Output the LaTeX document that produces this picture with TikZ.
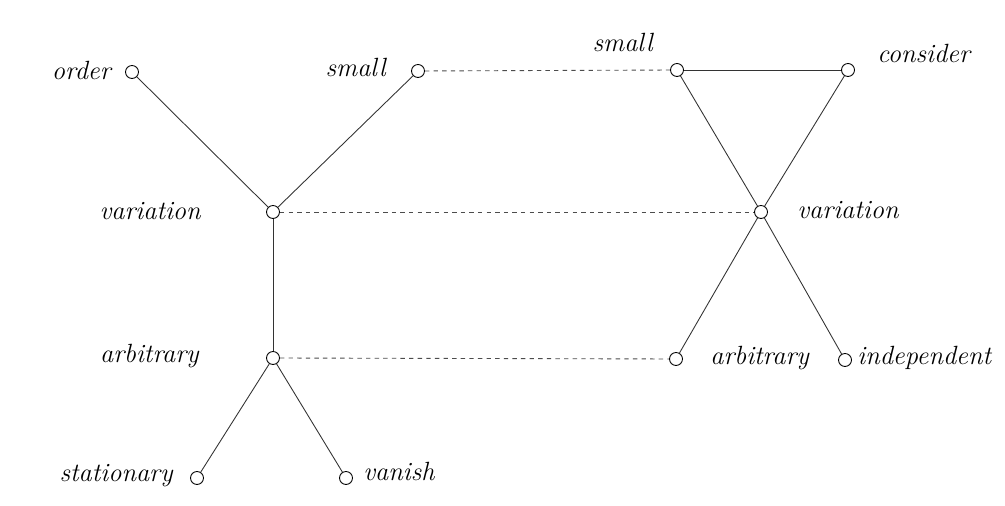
\documentclass[tikz,border=0pt]{standalone}
\usepackage{tikz}
\usetikzlibrary{positioning}

\begin{document}
\begin{tikzpicture}[x=0.02cm, y=-0.02cm,
    pt/.style={circle, draw, fill=white, inner sep=0pt, minimum size=0.26cm, line width=0.5pt},
    word/.style={inner sep=0pt, font=\fontsize{15}{17}\selectfont\itshape},
    link/.style={line width=0.5pt, black!80},
    match/.style={line width=0.5pt, black!70, dash pattern=on 2.5pt off 2.4pt}]
    \useasboundingbox (0,0) rectangle (1005,506);

    % left tree
    \node[pt] (order) at (132,72) {};
    \node[word, anchor=base east] (orderT) at (111,80) {order};
    \node[pt] (smallL) at (418,71) {};
    \node[word, anchor=base east] (smallLT) at (386,77) {small};
    \node[pt] (varL) at (273,212) {};
    \node[word, anchor=base east] (varLT) at (201,220) {variation};
    \node[pt] (arbL) at (273,358) {};
    \node[word, anchor=base east] (arbLT) at (199,363) {arbitrary};
    \node[pt] (stat) at (197,478) {};
    \node[word, anchor=base east] (statT) at (173,482) {stationary};
    \node[pt] (vanish) at (346,478) {};
    \node[word, anchor=base west] (vanishT) at (363,481) {vanish};

    % right graph
    \node[pt] (smallR) at (677,70) {};
    \node[word, anchor=base east] (smallRT) at (653,52) {small};
    \node[pt] (consider) at (848,70) {};
    \node[word, anchor=base west] (considerT) at (877,63) {consider};
    \node[pt] (varR) at (761,212) {};
    \node[word, anchor=base west] (varRT) at (797,219) {variation};
    \node[pt] (arbR) at (676,359) {};
    \node[word, anchor=base west] (arbRT) at (710,365) {arbitrary};
    \node[pt] (indep) at (845,360) {};
    \node[word, anchor=base west] (indepT) at (857,365) {independent};

    % edges
    \draw[link] (order) -- (varL);
    \draw[link] (smallL) -- (varL);
    \draw[link] (varL) -- (arbL);
    \draw[link] (arbL) -- (stat);
    \draw[link] (arbL) -- (vanish);
    \draw[link] (smallR) -- (consider);
    \draw[link] (smallR) -- (varR);
    \draw[link] (consider) -- (varR);
    \draw[link] (varR) -- (arbR);
    \draw[link] (varR) -- (indep);

    % correspondences
    \draw[match] (smallL) -- (smallR);
    \draw[match] (varL) -- (varR);
    \draw[match] (arbL) -- (arbR);
\end{tikzpicture}
\end{document}
